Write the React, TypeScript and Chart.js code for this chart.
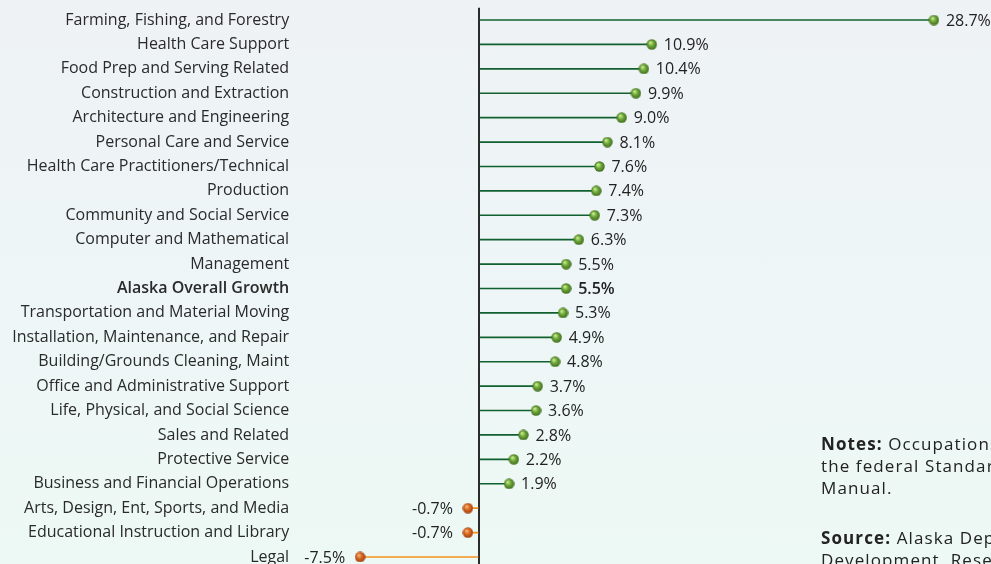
import React, { useEffect, useRef } from "react";
import { Chart, registerables } from "chart.js";

Chart.register(...registerables);

const categories = [
  "Farming, Fishing, and Forestry",
  "Health Care Support",
  "Food Prep and Serving Related",
  "Construction and Extraction",
  "Architecture and Engineering",
  "Personal Care and Service",
  "Health Care Practitioners/Technical",
  "Production",
  "Community and Social Service",
  "Computer and Mathematical",
  "Management",
  "Alaska Overall Growth",
  "Transportation and Material Moving",
  "Installation, Maintenance, and Repair",
  "Building/Grounds Cleaning, Maint",
  "Office and Administrative Support",
  "Life, Physical, and Social Science",
  "Sales and Related",
  "Protective Service",
  "Business and Financial Operations",
  "Arts, Design, Ent, Sports, and Media",
  "Educational Instruction and Library",
  "Legal",
];

const growth = [
  28.7, 10.9, 10.4, 9.9, 9.0, 8.1, 7.6, 7.4, 7.3, 6.3, 5.5, 5.5, 5.3, 4.9, 4.8,
  3.7, 3.6, 2.8, 2.2, 1.9, -0.7, -0.7, -7.5,
];

const highlight = "Alaska Overall Growth";

const FONT = "'Open Sans', 'Noto Sans', sans-serif";

function makeBall(light: string, mid: string, dark: string) {
  const c = document.createElement("canvas");
  c.width = 11;
  c.height = 11;
  const g = c.getContext("2d")!;
  const grad = g.createRadialGradient(4, 3.6, 0.5, 5.5, 5.5, 5.5);
  grad.addColorStop(0, light);
  grad.addColorStop(0.45, mid);
  grad.addColorStop(1, dark);
  g.fillStyle = grad;
  g.beginPath();
  g.arc(5.5, 5.5, 5.2, 0, Math.PI * 2);
  g.fill();
  return c;
}

export default function App() {
  const ref = useRef<HTMLCanvasElement | null>(null);

  useEffect(() => {
    if (!ref.current) return;
    const greenBall = makeBall("#c8ec8a", "#6ea63a", "#3a6a1a");
    const orangeBall = makeBall("#f8b27a", "#d8691f", "#9a3a10");

    const valueLabels = {
      id: "valueLabels",
      afterDatasetsDraw(chart: any) {
        const ctx = chart.ctx;
        const meta = chart.getDatasetMeta(1);
        ctx.save();
        ctx.textBaseline = "middle";
        meta.data.forEach((pt: any, i: number) => {
          const v = growth[i];
          const bold = categories[i] === highlight;
          ctx.font = `${bold ? "600 " : ""}16px ${FONT}`;
          ctx.fillStyle = "#222";
          const txt = `${v.toFixed(1)}%`;
          if (v >= 0) {
            ctx.textAlign = "left";
            ctx.fillText(txt, pt.x + 12, pt.y + 1);
          } else {
            ctx.textAlign = "right";
            ctx.fillText(txt, pt.x - 15, pt.y + 1);
          }
        });
        ctx.restore();
      },
    };

    const chart = new Chart(ref.current, {
      type: "bar",
      data: {
        labels: categories,
        datasets: [
          {
            type: "bar",
            data: growth,
            backgroundColor: growth.map((v) => (v >= 0 ? "#10612f" : "#f5901e")),
            barThickness: 1,
            order: 2,
          },
          {
            type: "line",
            data: growth,
            showLine: false,
            pointStyle: growth.map((v) => (v >= 0 ? greenBall : orangeBall)) as any,
            pointRadius: 5.5,
            pointHoverRadius: 5.5,
            order: 1,
          },
        ],
      },
      options: {
        indexAxis: "y",
        animation: false,
        responsive: false,
        events: [],
        layout: { padding: { top: 7.8, bottom: 10.8, left: 0, right: 36.5 } },
        plugins: { legend: { display: false }, tooltip: { enabled: false } },
        scales: {
          x: {
            type: "linear",
            min: -11,
            max: 30,
            ticks: { display: false, stepSize: 1 },
            border: { display: false },
            grid: {
              drawTicks: false,
              tickLength: 0,
              color: (c: any) => (c.tick && c.tick.value === 0 ? "#2b2b2b" : "rgba(0,0,0,0)"),
              lineWidth: (c: any) => (c.tick && c.tick.value === 0 ? 2 : 0),
            },
            afterFit: (s: any) => {
              s.height = 0;
              s.paddingLeft = 0;
              s.paddingRight = 0;
            },
          },
          y: {
            type: "category",
            offset: true,
            border: { display: false },
            grid: { display: false, drawTicks: false, tickLength: 0 },
            ticks: {
              padding: 15.5,
              color: "#2a2a2a",
              autoSkip: false,
              font: (c: any) => ({
                family: FONT,
                size: 16,
                weight: categories[c.index] === highlight ? "600" : "normal",
              }),
            },
            afterFit: (s: any) => {
              s.width = 304.65;
              s.paddingTop = 0;
              s.paddingBottom = 0;
            },
          },
        },
      },
      plugins: [valueLabels],
    });
    return () => chart.destroy();
  }, []);

  return (
    <div
      style={{
        position: "fixed",
        left: 0,
        top: 0,
        width: 991,
        height: 564,
        overflow: "hidden",
        background: "linear-gradient(180deg, #eef2f5 0%, #eef5f7 45%, #edf9f4 100%)",
      }}
    >
      <canvas
        ref={ref}
        width={991}
        height={580}
        style={{ position: "absolute", left: 0, top: 0, width: 991, height: 580 }}
      />
      <div
        style={{
          position: "absolute",
          left: 821,
          top: 433,
          fontFamily: FONT,
          fontSize: 17,
          lineHeight: "22px",
          color: "#222",
          whiteSpace: "nowrap",
          letterSpacing: "1.1px",
        }}
      >
        <div>
          <b>Notes:</b> Occupations are grouped according to
          <br />
          the federal Standard Occupational Classification
          <br />
          Manual.
        </div>
        <div style={{ marginTop: 28 }}>
          <b>Source:</b> Alaska Department of Labor and Workforce
          <br />
          Development, Research and Analysis Section
        </div>
      </div>
    </div>
  );
}
